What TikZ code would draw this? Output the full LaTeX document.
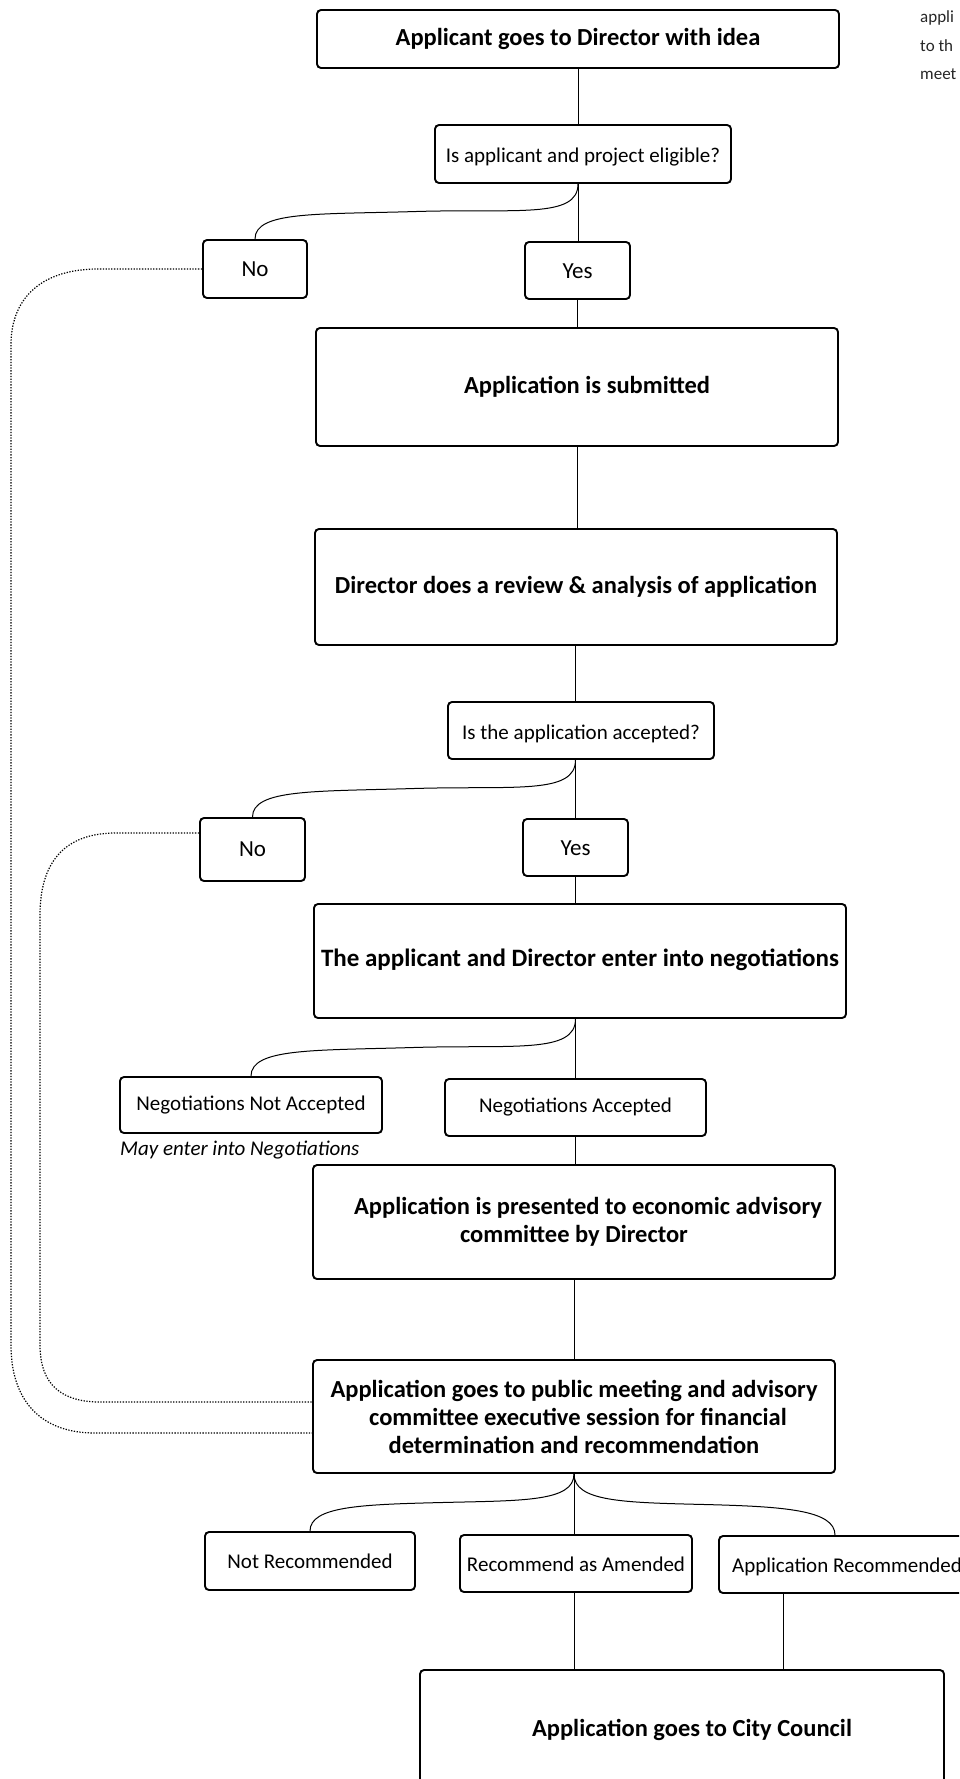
\documentclass[tikz,border=0pt]{standalone}
\usepackage{fontspec}
\setmainfont{Carlito}
\usetikzlibrary{calc}
\begin{document}
\begin{tikzpicture}[x=1pt,y=-1pt,
  box/.style={draw, line width=1.9pt, rounded corners=4pt, inner sep=0pt, align=center,
    font=\fontsize{24.5}{28}\selectfont\bfseries},
  qbox/.style={box, font=\fontsize{21}{24}\selectfont},
  ynbox/.style={box, font=\fontsize{23}{27}\selectfont},
  dims/.style 2 args={minimum width=#1pt, minimum height=#2pt},
  link/.style={line width=1pt},
  loopline/.style={line width=1.2pt, dash pattern=on 1.3pt off 1.5pt},
  frag/.style={anchor=west, inner sep=0pt, font=\fontsize{17}{20}\selectfont, text=black!85},
]
\useasboundingbox (0,0) rectangle (959,1779);
\clip (0,0) rectangle (959,1779);

% fragments at right edge
\node[frag] (f1) at (920,18) {appli};
\node[frag] (f2) at (920,46) {to th};
\node[frag] (f3) at (920,74) {meet};

% boxes
\node[box, dims={522}{58}] (start) at (578,39) {Applicant goes to Director with idea};
\node[qbox, dims={296}{58}, text height=22pt, text depth=5pt] (q1) at (583,154) {Is applicant and project eligible?};
\node[ynbox, dims={104}{58}] (no1) at (255,269) {No};
\node[ynbox, dims={105}{57}, text height=22pt, text depth=6pt] (yes1) at (577.5,270.5) {Yes};
\node[box, dims={522}{118}] (submit) at (577,387) {\hspace*{20pt}Application is submitted};
\node[box, dims={522}{116}] (review) at (576,587) {Director does a review \& analysis of application};
\node[qbox, dims={266}{57}, text height=22pt, text depth=5pt] (q2) at (581,730.5) {Is the application accepted?};
\node[ynbox, dims={105}{63}] (no2) at (252.5,849.5) {No};
\node[ynbox, dims={105}{57}, text height=22pt, text depth=6pt] (yes2) at (575.5,847.5) {Yes};
\node[box, dims={532}{114}, text height=24pt, text depth=14pt, font=\fontsize{25}{28}\selectfont\bfseries] (nego) at (580,961) {The applicant and Director enter into negotiations};
\node[qbox, dims={262}{56}] (nna) at (251,1105) {Negotiations Not Accepted};
\node[qbox, dims={261}{57}] (na) at (575.5,1107.5) {Negotiations Accepted};
\node[anchor=west, inner sep=0pt, font=\fontsize{21}{24}\selectfont\itshape] (may) at (120,1150) {May enter into Negotiations};
\node[box, dims={522}{114}] (present) at (574,1222) {\hspace*{28pt}Application is presented to economic advisory\\committee by Director};
\node[box, dims={522}{113}] (public) at (574,1416.5) {Application goes to public meeting and advisory\\\hspace*{8pt}committee executive session for financial\\determination and recommendation};
\node[qbox, dims={210}{58}] (notrec) at (310,1561) {Not Recommended};
\node[qbox, dims={232}{57}, text height=20pt, text depth=5pt] (recam) at (576,1563.5) {Recommend as Amended};
\node[qbox, dims={256}{57}, text height=21pt, text depth=5pt] (apprec) at (847,1564.5) {Application Recommended};
\node[box, dims={524}{120}] (final) at (682,1730) {\hspace*{20pt}Application goes to City Council};

% straight connectors
\draw[link] (start.south) -- (q1.north -| start.south);
\draw[link] (q1.south -| start.south) -- (yes1.north -| start.south);
\draw[link] (yes1.south) -- (yes1.south |- submit.north);
\draw[link] (submit.south -| yes1.south) -- (review.north -| yes1.south);
\draw[link] (review.south -| yes2.south) -- (q2.north -| yes2.south);
\draw[link] (q2.south -| yes2.south) -- (yes2.north);
\draw[link] (yes2.south) -- (yes2.south |- nego.north);
\draw[link] (nego.south -| na.north) -- (na.north);
\draw[link] (na.south) -- (na.south |- present.north);
\draw[link] (present.south) -- (public.north);
\draw[link] (public.south) -- (public.south |- recam.north);
\draw[link] (recam.south -| public.south) -- (final.north -| public.south);
\draw[link] ([xshift=-64pt]apprec.south) -- ([xshift=-64pt]apprec.south |- final.north);

% braces
\coordinate (b1) at (q1.south -| start.south);
\draw[link] (b1) .. controls +(0,35) and +(100,-3) .. ($(b1)!0.5!(no1.north)$)
  .. controls +(-100,3) and +(0,-28) .. (no1.north);
\coordinate (b2) at (q2.south -| yes2.south);
\draw[link] (b2) .. controls +(0,35) and +(100,-3) .. ($(b2)!0.5!(no2.north)$)
  .. controls +(-100,3) and +(0,-28) .. (no2.north);
\coordinate (b3) at (nego.south -| na.north);
\draw[link] (b3) .. controls +(0,35) and +(100,-3) .. ($(b3)!0.5!(nna.north)$)
  .. controls +(-100,3) and +(0,-28) .. (nna.north);
\coordinate (b4) at (public.south);
\draw[link] (b4) .. controls +(0,28) and +(80,-2) .. ($(b4)!0.5!(notrec.north)$)
  .. controls +(-80,2) and +(0,-25) .. (notrec.north);
\coordinate (b5) at ([xshift=-12pt]apprec.north);
\draw[link] (b4) .. controls +(0,28) and +(-80,-2) .. ($(b4)!0.5!(b5)$)
  .. controls +(80,2) and +(0,-25) .. (b5);

% dotted return loops
\draw[loopline] (no1.west) -- (98,269) .. controls (45,269) and (11,295) .. (11,345)
  -- (11,1345) .. controls (11,1400) and (40,1433) .. (95,1433) -- ([yshift=-16.5pt]public.west);
\draw[loopline] ([yshift=16.5pt]no2.west) -- (116,833) .. controls (62,833) and (40,865) .. (40,915)
  -- (40,1345) .. controls (40,1385) and (62,1402) .. (100,1402) -- ([yshift=14.5pt]public.west);
\end{tikzpicture}
\end{document}
